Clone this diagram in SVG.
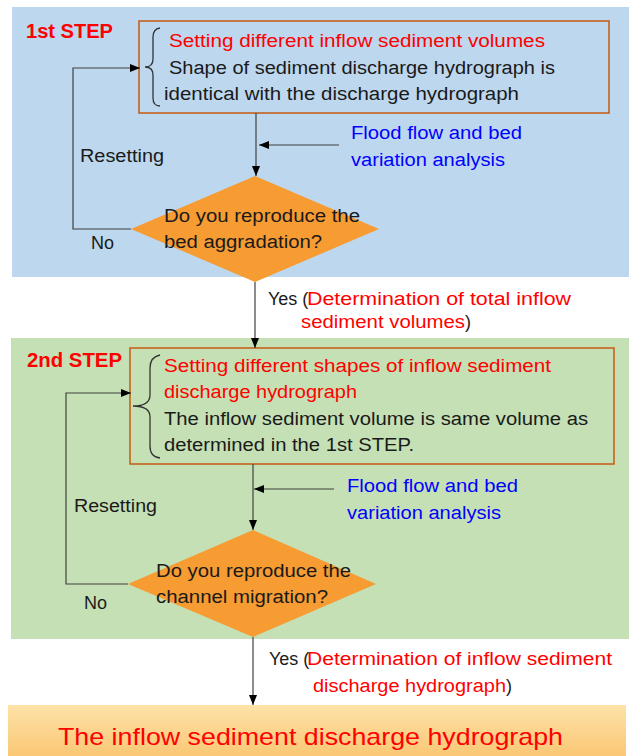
<svg xmlns="http://www.w3.org/2000/svg" width="631" height="756" viewBox="0 0 631 756">
<defs>
<linearGradient id="finalGrad" x1="0" y1="0" x2="0" y2="1">
<stop offset="0" stop-color="#FEE2A8"/>
<stop offset="1" stop-color="#F9C36C"/>
</linearGradient>
<marker id="arr" markerUnits="userSpaceOnUse" markerWidth="10" markerHeight="10" viewBox="0 0 10 10" refX="10" refY="5" orient="auto">
<path d="M0,1 L10,5 L0,9 Z" fill="#000"/>
</marker>
<style>
.t{font-family:"Liberation Sans",Arial,sans-serif;font-size:18px;fill:#1a1a1a}
.red{fill:#FF0000}
.blue{fill:#0000FF}
.step{font-family:"Liberation Sans",Arial,sans-serif;font-size:20px;font-weight:bold;fill:#FF0000}
.box{fill:none;stroke:#C55A11;stroke-width:1.5}
.dia{fill:#F79B33;stroke:none}
.brace{fill:none;stroke:#333;stroke-width:1.3}
.con{fill:none;stroke:#404040;stroke-width:1.2}
.arw{marker-end:url(#arr)}
</style>
</defs>
<g id="panel1">
<rect x="12" y="7" width="617" height="270" fill="#BDD7EE"/>
<text class="step" x="26" y="38" textLength="87" lengthAdjust="spacingAndGlyphs">1st STEP</text>
</g>
<g id="panel2">
<rect x="11" y="338" width="618" height="301" fill="#C5E0B4"/>
<text class="step" x="27" y="367" textLength="95" lengthAdjust="spacingAndGlyphs">2nd STEP</text>
</g>
<g id="box1">
<rect class="box" x="139" y="21" width="470" height="92"/>
<path class="brace" d="M160,28 Q153,29 153,37 L153,59 Q153,67 145,67 Q153,67 153,75 L153,98 Q153,106 160,106"/>
<text class="t red" x="169" y="47" textLength="376" lengthAdjust="spacingAndGlyphs">Setting different inflow sediment volumes</text>
<text class="t" x="169" y="74" textLength="386" lengthAdjust="spacingAndGlyphs">Shape of sediment discharge hydrograph is</text>
<text class="t" x="164" y="100" textLength="355" lengthAdjust="spacingAndGlyphs">identical with the discharge hydrograph</text>
</g>
<g id="analysis1">
<text class="t blue" x="351" y="139" textLength="171" lengthAdjust="spacingAndGlyphs">Flood flow and bed</text>
<text class="t blue" x="351" y="166" textLength="154" lengthAdjust="spacingAndGlyphs">variation analysis</text>
</g>
<g id="decision1">
<polygon class="dia" points="131,229 255,176 379,229 255,282"/>
<text class="t" x="164" y="222" textLength="196" lengthAdjust="spacingAndGlyphs">Do you reproduce the</text>
<text class="t" x="164" y="248" textLength="158" lengthAdjust="spacingAndGlyphs">bed aggradation?</text>
</g>
<g id="box2">
<rect class="box" x="130" y="348" width="484" height="116"/>
<path class="brace" d="M160,355 Q150,357 150,368 L150,395 Q150,406 133,406 Q150,406 150,417 L150,446 Q150,457 160,458"/>
<text class="t red" x="164" y="372" textLength="387" lengthAdjust="spacingAndGlyphs">Setting different shapes of inflow sediment</text>
<text class="t red" x="164" y="398" textLength="193" lengthAdjust="spacingAndGlyphs">discharge hydrograph</text>
<text class="t" x="164" y="425" textLength="424" lengthAdjust="spacingAndGlyphs">The inflow sediment volume is same volume as</text>
<text class="t" x="164" y="451" textLength="250" lengthAdjust="spacingAndGlyphs">determined in the 1st  STEP.</text>
</g>
<g id="analysis2">
<text class="t blue" x="347" y="492" textLength="171" lengthAdjust="spacingAndGlyphs">Flood flow and bed</text>
<text class="t blue" x="347" y="519" textLength="154" lengthAdjust="spacingAndGlyphs">variation analysis</text>
</g>
<g id="decision2">
<polygon class="dia" points="128,584 253,530 376,584 253,637"/>
<text class="t" x="156" y="577" textLength="195" lengthAdjust="spacingAndGlyphs">Do you reproduce the</text>
<text class="t" x="156" y="603" textLength="172" lengthAdjust="spacingAndGlyphs">channel migration?</text>
</g>
<g id="result">
<rect x="8" y="705" width="618" height="60" fill="url(#finalGrad)"/>
<text x="58" y="745" style="font-family:'Liberation Sans',Arial,sans-serif;font-size:24px;fill:#FF0000" textLength="505" lengthAdjust="spacingAndGlyphs">The inflow sediment discharge hydrograph</text>
</g>
<g id="connectors">
<line class="con arw" x1="256" y1="113" x2="256" y2="176"/>
<line class="con arw" x1="339" y1="145" x2="259" y2="145"/>
<polyline class="con arw" points="131,229 73,229 73,68 140,68"/>
<line class="con arw" x1="255" y1="282" x2="255" y2="348"/>
<line class="con arw" x1="253" y1="464" x2="253" y2="530"/>
<line class="con arw" x1="334" y1="489" x2="254" y2="489"/>
<polyline class="con arw" points="128,584 66,584 66,393 131,393"/>
<line class="con arw" x1="253" y1="637" x2="253" y2="705"/>
</g>
<g id="labels">
<text class="t" x="80" y="162" textLength="84" lengthAdjust="spacingAndGlyphs">Resetting</text>
<text class="t" x="91" y="249">No</text>
<text class="t" x="74" y="512" textLength="83" lengthAdjust="spacingAndGlyphs">Resetting</text>
<text class="t" x="84" y="609">No</text>
<text class="t" x="268" y="305">Yes (<tspan class="red" x="307" textLength="264" lengthAdjust="spacingAndGlyphs">Determination of total inflow</tspan></text>
<text class="t" x="301" y="328"><tspan class="red" textLength="164" lengthAdjust="spacingAndGlyphs">sediment volumes</tspan><tspan x="465">)</tspan></text>
<text class="t" x="269" y="665">Yes (<tspan class="red" x="307" textLength="305" lengthAdjust="spacingAndGlyphs">Determination of inflow sediment</tspan></text>
<text class="t" x="313" y="692"><tspan class="red" textLength="193" lengthAdjust="spacingAndGlyphs">discharge hydrograph</tspan><tspan x="506">)</tspan></text>
</g>
</svg>
